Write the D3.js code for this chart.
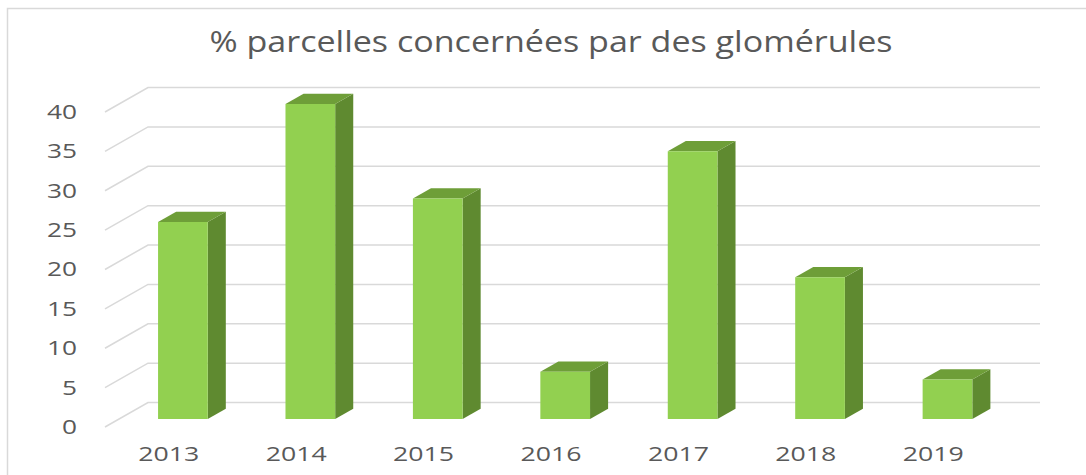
<!DOCTYPE html>
<html>
<head>
<meta charset="utf-8">
<script src="https://cdn.jsdelivr.net/npm/d3@7"></script>
<style>
  body { margin: 0; background: #fff; }
  svg text { font-family: "Open Sans", sans-serif; fill: #595959; }
</style>
</head>
<body>
<div id="chart"></div>
<script>
var years = ["2013", "2014", "2015", "2016", "2017", "2018", "2019"];
var values = [25, 40, 28, 6, 34, 18, 5];
var yTicks = [0, 5, 10, 15, 20, 25, 30, 35, 40];
var title = "% parcelles concernées par des glomérules";

var width = 1086, height = 475;
// depth vector of the 3d box (front plane -> back wall)
var DX = 43, DY = -24.5;
var d0 = 0.33, d1 = 0.75;

var svg = d3.select("#chart")
    .append("svg")
    .attr("width", width)
    .attr("height", height);

// chart border
svg.append("rect")
    .attr("x", 7.5)
    .attr("y", 8.5)
    .attr("width", 1200)
    .attr("height", 600)
    .attr("fill", "none")
    .attr("stroke", "#d9d9d9")
    .attr("stroke-width", 1.5);

svg.append("text")
    .attr("x", 551)
    .attr("y", 52)
    .attr("text-anchor", "middle")
    .attr("font-size", "30px")
    .attr("textLength", 683)
    .attr("lengthAdjust", "spacingAndGlyphs")
    .text(title);

var x = d3.scaleBand()
    .domain(years)
    .range([105, 997]);

var y = d3.scaleLinear()
    .domain([0, 40])
    .range([427, 112]);

function P(xf, v, d) {
    return [xf + DX * d, y(v) + DY * d];
}

// gridlines: diagonal on the side wall, then along the back wall
svg.append("g")
    .selectAll("path")
    .data(yTicks)
    .enter()
    .append("path")
    .attr("fill", "none")
    .attr("stroke", "#d9d9d9")
    .attr("stroke-width", 1.5)
    .attr("d", function (t) {
        var a = P(x.range()[0], t, 0), b = P(x.range()[0], t, 1), c = P(x.range()[1], t, 1);
        return "M" + a + "L" + b + "L" + c;
    });

// y labels
var yAxis = d3.axisLeft(y)
    .tickValues(yTicks)
    .tickSize(0)
    .tickPadding(28);

var gy = svg.append("g")
    .attr("transform", "translate(105,0)")
    .call(yAxis);
gy.select(".domain").remove();
gy.selectAll("text")
    .attr("font-size", "20px")
    .attr("font-family", "Open Sans")
    .attr("fill", "#595959")
    .attr("textLength", function (d) { return String(d).length * 15; })
    .attr("lengthAdjust", "spacingAndGlyphs");

// x labels
var xAxis = d3.axisBottom(x)
    .tickSize(0)
    .tickPadding(20);

var gx = svg.append("g")
    .attr("transform", "translate(0,427)")
    .call(xAxis);
gx.select(".domain").remove();
gx.selectAll("text")
    .attr("font-size", "20px")
    .attr("font-family", "Open Sans")
    .attr("fill", "#595959")
    .attr("textLength", 61)
    .attr("lengthAdjust", "spacingAndGlyphs");

// 3d bars
var barW = x.bandwidth() * 0.39;
var data = years.map(function (yr, i) { return { year: yr, value: values[i] }; });

var bars = svg.append("g")
    .selectAll("g")
    .data(data)
    .enter()
    .append("g");

function poly(pts) {
    return pts.map(function (p) { return p.join(","); }).join(" ");
}

bars.append("polygon")
    .attr("fill", "#5f8a30")
    .attr("points", function (d) {
        var x1 = x(d.year) + x.bandwidth() / 2 + barW / 2;
        return poly([P(x1, 0, d0), P(x1, 0, d1), P(x1, d.value, d1), P(x1, d.value, d0)]);
    });

bars.append("polygon")
    .attr("fill", "#6e9e38")
    .attr("points", function (d) {
        var x0 = x(d.year) + x.bandwidth() / 2 - barW / 2, x1 = x0 + barW;
        return poly([P(x0, d.value, d0), P(x1, d.value, d0), P(x1, d.value, d1), P(x0, d.value, d1)]);
    });

bars.append("polygon")
    .attr("fill", "#92d050")
    .attr("points", function (d) {
        var x0 = x(d.year) + x.bandwidth() / 2 - barW / 2, x1 = x0 + barW;
        return poly([P(x0, 0, d0), P(x1, 0, d0), P(x1, d.value, d0), P(x0, d.value, d0)]);
    });
</script>
</body>
</html>
